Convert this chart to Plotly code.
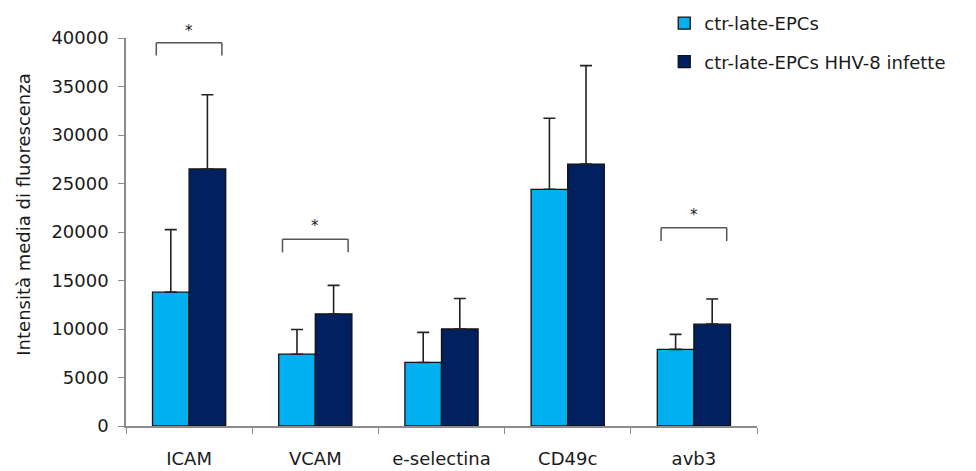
import plotly.graph_objects as go

# Adhesion molecule expression, mean fluorescence intensity
categories = ["ICAM", "VCAM", "e-selectina", "CD49c", "avb3"]
ctr_values = [13800, 7400, 6550, 24400, 7900]
ctr_errors = [6450, 2550, 3100, 7320, 1550]
hhv_values = [26500, 11550, 10000, 27000, 10500]
hhv_errors = [7650, 2950, 3150, 10150, 2600]

series_names = ["ctr-late-EPCs", "ctr-late-EPCs HHV-8 infette"]
series_colors = ["#00B0F0", "#002060"]

y_max = 40000
y_ticks = [0, 5000, 10000, 15000, 20000, 25000, 30000, 35000, 40000]

# Significance brackets: (category index, bracket level, leg bottom, star level)
significance = [
    (0, 39500, 38200, 40750),
    (1, 19250, 17900, 20600),
    (4, 20450, 19070, 21800),
]

FONT = "DejaVu Sans"
TEXT_COLOR = "#1a1a1a"
AXIS_COLOR = "#8c8c8c"

fig = go.Figure()

for name, color, vals, errs, grp in [
    (series_names[0], series_colors[0], ctr_values, ctr_errors, "a"),
    (series_names[1], series_colors[1], hhv_values, hhv_errors, "b"),
]:
    fig.add_trace(go.Bar(
        x=categories,
        y=vals,
        name=name,
        legendgroup=grp,
        marker=dict(color=color, line=dict(color="#111111", width=1.3)),
        error_y=dict(
            type="data",
            array=errs,
            arrayminus=[0] * len(errs),
            symmetric=False,
            color="#222222",
            thickness=1.6,
            width=6,
        ),
    ))

shapes = []
annotations = []
half = 0.26
for idx, level, bottom, star in significance:
    x0, x1 = idx - half, idx + half
    line = dict(color="#555555", width=1.5)
    shapes.append(dict(type="line", xref="x", yref="y", x0=x0, x1=x1, y0=level, y1=level, line=line))
    shapes.append(dict(type="line", xref="x", yref="y", x0=x0, x1=x0, y0=bottom, y1=level, line=line))
    shapes.append(dict(type="line", xref="x", yref="y", x0=x1, x1=x1, y0=bottom, y1=level, line=line))
    # star placed in paper units so it may sit above the top of the axis range
    annotations.append(dict(
        x=idx, y=star / y_max, xref="x", yref="paper", text="*", showarrow=False,
        font=dict(family=FONT, size=15, color=TEXT_COLOR),
        xanchor="center", yanchor="middle",
    ))

# Rotated y-axis title
annotations.append(dict(
    x=-0.162, y=0.544, xref="paper", yref="paper",
    text="Intensità media di fluorescenza", textangle=-90, showarrow=False,
    font=dict(family=FONT, size=18, color=TEXT_COLOR),
    xanchor="center", yanchor="middle",
))

fig.update_layout(
    width=976,
    height=471,
    margin=dict(l=126, r=219, t=38, b=45, autoexpand=False),
    paper_bgcolor="white",
    plot_bgcolor="white",
    barmode="group",
    bargap=0.42,
    bargroupgap=0,
    font=dict(family=FONT, size=18, color=TEXT_COLOR),
    showlegend=True,
    legend=dict(
        x=0.853, y=1.085, xanchor="left", yanchor="top",
        font=dict(family=FONT, size=18, color=TEXT_COLOR),
        tracegroupgap=12,
        itemwidth=30,
        bgcolor="rgba(0,0,0,0)",
    ),
    shapes=shapes,
    annotations=annotations,
    xaxis=dict(
        type="category",
        showline=True, linecolor=AXIS_COLOR, linewidth=1.5,
        ticks="outside", tickson="boundaries", ticklen=6, tickcolor=AXIS_COLOR,
        tickfont=dict(family=FONT, size=18, color=TEXT_COLOR),
        ticklabelstandoff=16,
        showgrid=False, zeroline=False,
    ),
    yaxis=dict(
        range=[0, y_max],
        tickvals=y_ticks,
        ticktext=[str(v) for v in y_ticks],
        showline=True, linecolor=AXIS_COLOR, linewidth=1.5,
        ticks="outside", ticklen=6, tickcolor=AXIS_COLOR,
        tickfont=dict(family=FONT, size=18, color=TEXT_COLOR),
        ticklabelstandoff=6,
        showgrid=False, zeroline=False,
    ),
)

fig.write_html("out.html")
